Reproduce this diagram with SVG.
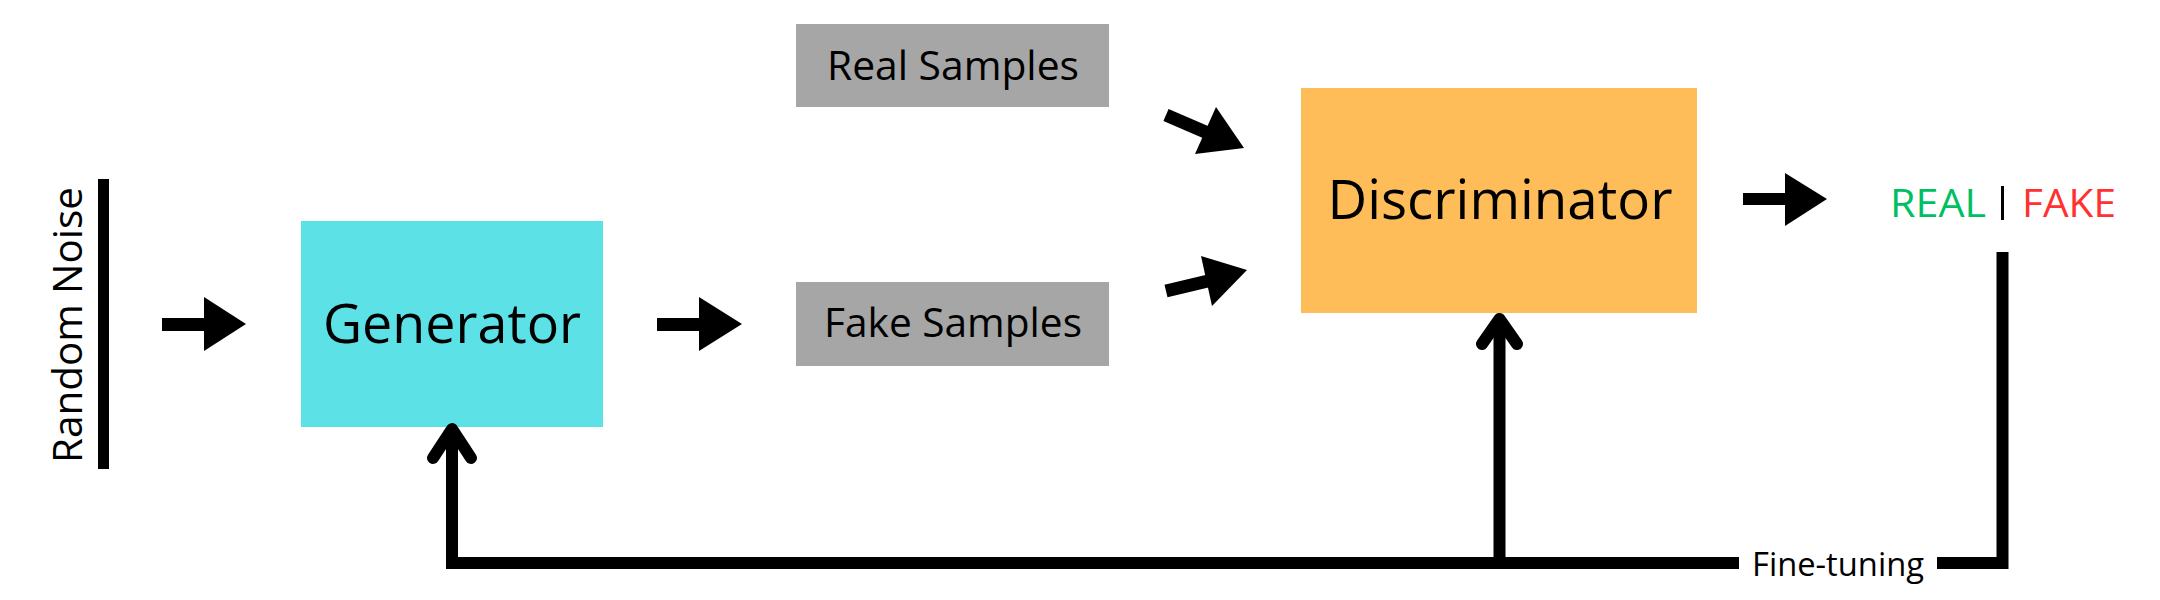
<svg xmlns="http://www.w3.org/2000/svg" width="2160" height="600" viewBox="0 0 2160 600">
<style>
  .lbl { font-family: "Open Sans", "Liberation Sans", sans-serif; fill: #000; }
  .arrowfill { fill: #000; stroke: none; }
  .line { stroke: #000; fill: none; stroke-width: 12; }
  .chev { stroke: #000; fill: none; stroke-width: 12; stroke-linecap: round; stroke-linejoin: round; }
</style>
<rect width="2160" height="600" fill="#ffffff"/>

<g id="random-noise">
  <text class="lbl" font-size="41" text-anchor="middle" transform="translate(82,325) rotate(-90)" textLength="276" lengthAdjust="spacingAndGlyphs">Random Noise</text>
  <rect x="98" y="179" width="11" height="290" fill="#000"/>
</g>

<g id="generator">
  <rect x="301" y="221" width="302" height="206" fill="#5ce1e6"/>
  <text class="lbl" x="452" y="343" font-size="54" text-anchor="middle" textLength="258" lengthAdjust="spacingAndGlyphs">Generator</text>
</g>

<g id="real-samples">
  <rect x="796" y="24" width="313" height="83" fill="#a6a6a6"/>
  <text class="lbl" x="953" y="80" font-size="40" text-anchor="middle" textLength="252" lengthAdjust="spacingAndGlyphs">Real Samples</text>
</g>

<g id="fake-samples">
  <rect x="796" y="282" width="313" height="84" fill="#a6a6a6"/>
  <text class="lbl" x="953" y="337" font-size="40" text-anchor="middle" textLength="258" lengthAdjust="spacingAndGlyphs">Fake Samples</text>
</g>

<g id="discriminator">
  <rect x="1301" y="88" width="396" height="225" fill="#ffbd59"/>
  <text class="lbl" x="1500" y="219" font-size="54" text-anchor="middle" textLength="345" lengthAdjust="spacingAndGlyphs">Discriminator</text>
</g>

<g id="output">
  <text x="1890" y="217" font-size="39" font-family="Open Sans, Liberation Sans, sans-serif" textLength="96" lengthAdjust="spacingAndGlyphs" fill="#00bf63">REAL</text>
  <rect x="2001" y="186" width="3" height="34" fill="#000"/>
  <text x="2022" y="217" font-size="39" font-family="Open Sans, Liberation Sans, sans-serif" textLength="94" lengthAdjust="spacingAndGlyphs" fill="#ff3131">FAKE</text>
</g>

<g id="connectors">
  <!-- noise -> generator -->
  <rect class="arrowfill" x="162" y="318" width="44" height="13"/>
  <polygon class="arrowfill" points="204,297 246,324 204,351"/>
  <!-- generator -> fake samples -->
  <rect class="arrowfill" x="657" y="318" width="44" height="13"/>
  <polygon class="arrowfill" points="699,297 742,324 699,351"/>
  <!-- real samples -> discriminator -->
  <line x1="1166" y1="115" x2="1210" y2="134" stroke="#000" stroke-width="13"/>
  <polygon class="arrowfill" points="1216,107 1244,148 1195,154"/>
  <!-- fake samples -> discriminator -->
  <line x1="1166" y1="291" x2="1208" y2="281" stroke="#000" stroke-width="13"/>
  <polygon class="arrowfill" points="1201,256 1247,270 1212,306"/>
  <!-- discriminator -> output -->
  <rect class="arrowfill" x="1743" y="193" width="44" height="12"/>
  <polygon class="arrowfill" points="1785,173 1827,199 1785,226"/>
  <!-- fine-tuning feedback loop -->
  <path class="line" d="M2002.5,252 V563 H1937"/>
  <path class="line" d="M1739,563 H446"/>
  <line class="line" x1="452" y1="569" x2="452" y2="432"/>
  <line class="line" x1="1499.5" y1="563" x2="1499.5" y2="320"/>
  <polyline class="chev" points="433,458 452,429 471,458"/>
  <polyline class="chev" points="1482,344 1499.5,319 1517,344"/>
  <text class="lbl" x="1838" y="576" font-size="32" text-anchor="middle" textLength="172" lengthAdjust="spacingAndGlyphs">Fine-tuning</text>
</g>
</svg>
